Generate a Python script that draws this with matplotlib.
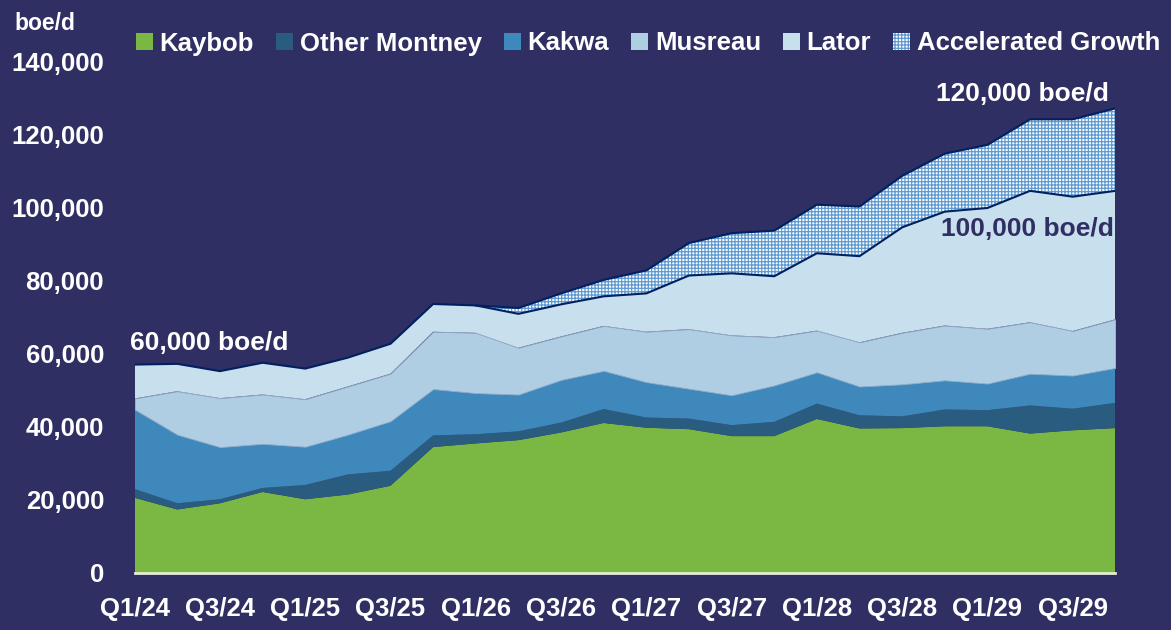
import numpy as np
import matplotlib
matplotlib.use("Agg")
import matplotlib.pyplot as plt
from matplotlib.patches import Patch

# quarterly production outlook, boe/d
quarters = [f"Q{q}/{y}" for y in range(24, 30) for q in range(1, 5)]
kaybob = [20600, 17400, 19100, 22200, 20200, 21500, 23900, 34500, 35500, 36400, 38500, 41100,
          39800, 39400, 37500, 37500, 42200, 39600, 39700, 40200, 40200, 38200, 39100, 39700]
other_montney = [2400, 1700, 1100, 1100, 3900, 5500, 4100, 3200, 2500, 2400, 2700, 3800,
                 2800, 2900, 3000, 3900, 4200, 3600, 3200, 4600, 4400, 7700, 5900, 6900]
kakwa = [21800, 18800, 14300, 12100, 10500, 10900, 13600, 12700, 11300, 10100, 11700, 10500,
         9700, 8200, 8200, 10000, 8600, 7900, 8800, 8000, 7300, 8700, 9100, 9600]
musreau = [3000, 11900, 13400, 13500, 13000, 13200, 13000, 15700, 16500, 12800, 11900, 12300,
           13800, 16300, 16400, 13200, 11400, 12100, 14100, 15000, 15000, 14100, 12200, 13300]
lator = [9300, 7500, 7400, 8700, 8400, 7900, 8200, 7600, 7500, 9300, 8800, 8100,
         10500, 14700, 17000, 16700, 21200, 23600, 28900, 31200, 33100, 36000, 36800, 35200]
accel = [0, 0, 0, 0, 0, 0, 0, 0, 0, 1600, 3000, 4500,
         6300, 8900, 11000, 12500, 13300, 13600, 14100, 15900, 17300, 19600, 21200, 22600]

names = ["Kaybob", "Other Montney", "Kakwa", "Musreau", "Lator", "Accelerated Growth"]
colors = ["#7AB743", "#2A5C80", "#3F88BC", "#AFCDE3", "#C8DFED", "#FFFFFF"]

BG = "#302F63"
NAVY = "#002060"
HATCH_BLUE = "#5E9AD0"
FS = 18.5

plt.rcParams["font.family"] = ["Liberation Sans", "DejaVu Sans"]
plt.rcParams["font.weight"] = "bold"
plt.rcParams["hatch.linewidth"] = 0.9

fig = plt.figure(figsize=(11.71, 6.30), dpi=100, facecolor=BG)
ax = fig.add_axes([0.115, 0.0905, 0.8375, 0.8111])
ax.set_facecolor(BG)

x = np.arange(len(quarters))
layers = [kaybob, other_montney, kakwa, musreau, lator, accel]
polys = ax.stackplot(x, *layers, colors=colors, linewidth=0)
polys[3].set_edgecolor("#93ADCB")
polys[3].set_linewidth(0.6)
polys[5].set_facecolor("#FFFFFF")
polys[5].set_edgecolor(HATCH_BLUE)
polys[5].set_hatch("+++++")
polys[5].set_linewidth(0)

tops = np.cumsum(np.array(layers), axis=0)
ax.plot(x, tops[4], color=NAVY, lw=1.5)
ax.plot(x[8:], tops[5][8:], color=NAVY, lw=1.5)

ax.set_xlim(0, len(quarters) - 1)
ax.set_ylim(0, 140000)
ax.set_xticks(x[::2])
ax.set_xticklabels(quarters[::2])
ax.set_yticks(np.arange(0, 140001, 20000))
ax.set_yticklabels([f"{v:,}" for v in range(0, 140001, 20000)])
ax.tick_params(axis="both", length=0, colors="white", labelsize=FS)
ax.tick_params(axis="x", pad=17)
ax.tick_params(axis="y", pad=22)
for s in ["top", "right", "left"]:
    ax.spines[s].set_visible(False)
ax.spines["bottom"].set_color("#E6EDD8")
ax.spines["bottom"].set_linewidth(2)

ax.text(-0.1, 62900, "60,000 boe/d", color="white", fontsize=19, ha="left", va="center")
ax.text(22.85, 131300, "120,000 boe/d", color="white", fontsize=19, ha="right", va="center")
ax.text(22.97, 94300, "100,000 boe/d", color=BG, fontsize=19, ha="right", va="center")

fig.text(14 / 1171, 1 - 23 / 630, "boe/d", color="white", fontsize=16.5, ha="left", va="center")

handles = [Patch(facecolor=c, edgecolor="none") for c in colors[:5]]
handles.append(Patch(facecolor="#FFFFFF", edgecolor=HATCH_BLUE, hatch="+++++", lw=0))
leg = fig.legend(handles, names, loc="center left", bbox_to_anchor=(136 / 1171, 1 - 43.5 / 630),
                 ncol=6, frameon=False, fontsize=FS, handlelength=0.65, handleheight=0.65,
                 handletextpad=0.27, columnspacing=0.86, borderpad=0, borderaxespad=0,
                 labelcolor="white")

fig.savefig("out.png", dpi=100, facecolor=BG)
